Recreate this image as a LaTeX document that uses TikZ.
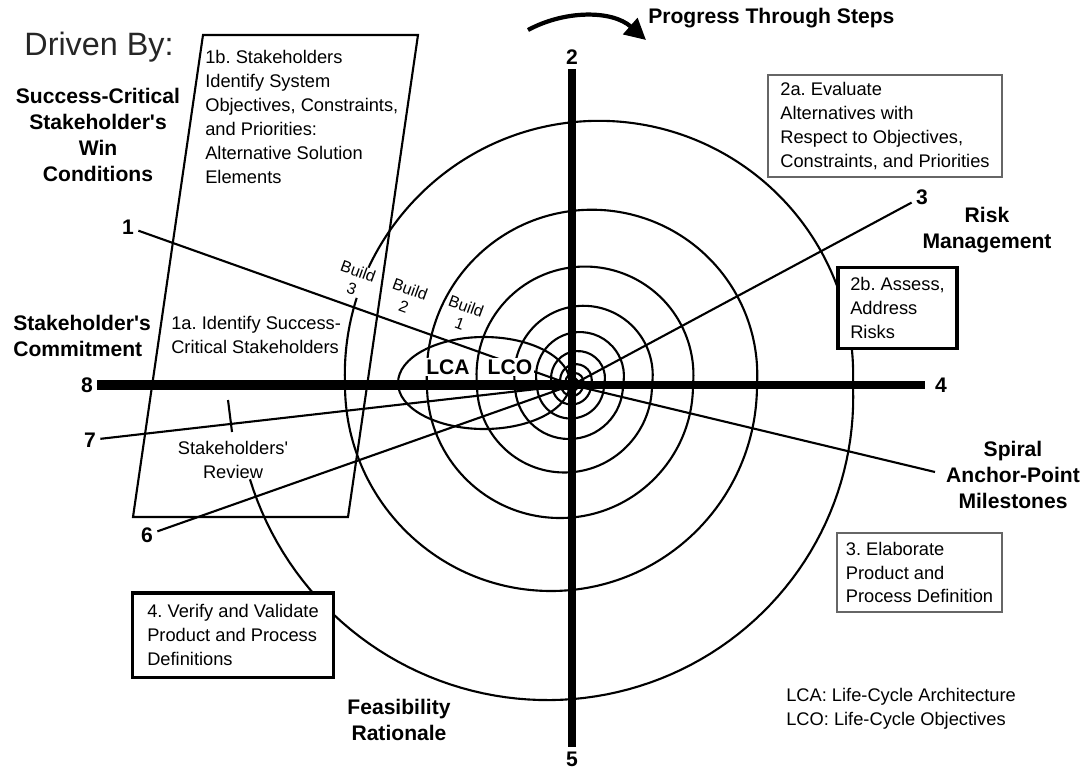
\documentclass[tikz,border=0pt]{standalone}
\usepackage{fontspec}
\setmainfont{Liberation Sans}[Ligatures=TeXOff]
\usetikzlibrary{arrows.meta}
\frenchspacing

\newcommand{\stepfont}{\fontsize{13}{17}\selectfont}
\newcommand{\headfont}{\fontsize{15}{18.5}\selectfont\bfseries}
\newcommand{\buildfont}{\fontsize{11.5}{13.5}\selectfont}

\begin{document}
\begin{tikzpicture}[x=0.025cm, y=-0.025cm,
	spiral/.style={line width=1.5pt},
	ray/.style={line width=1.5pt},
	stepbox/.style={draw, fill=white, align=left, font=\stepfont, inner sep=3pt},
	keybox/.style={stepbox, line width=2.2pt},
	softbox/.style={stepbox, draw=black!60, line width=1.4pt},
	driver/.style={font=\headfont, align=center, inner sep=0pt},
	numlabel/.style={font=\headfont, inner sep=3pt},
	buildlabel/.style={font=\buildfont, align=center, rotate=-20, inner sep=0pt},
	milestone/.style={font=\headfont, fill=white, inner sep=1pt},
	>={Triangle[length=15pt, width=15pt]}]

	\useasboundingbox (0,0) rectangle (1088,771);
	\coordinate (O) at (572,385);

	% spiral, upper halves sit a little above the axis
	\foreach \L/\R/\d in {345/853/10, 427/757/10, 477/693/10, 515/652/10, 537/623/9, 552/604/7, 561/591/5, 566/583/3, 569/578/2} {
		\pgfmathsetmacro{\hw}{(\R-\L)/2}
		\pgfmathsetmacro{\rr}{\hw*sqrt(1+(\d/\hw)^2)}
		\pgfmathsetmacro{\al}{asin(\d/\rr)}
		\draw[spiral] (\L,385) arc[start angle=180-\al, end angle=360+\al, radius=\rr];
	}
	% lower halves
	\foreach \R/\L in {757/345, 693/427, 652/477, 623/515, 604/537, 591/552, 583/561, 578/566, 574/569}
		\draw[spiral] (\R,385) arc[start angle=0, end angle=180, radius={(\R-\L)/2}];
	% outer turn, opening out towards the review
	\draw[spiral] plot[domain=0:163, samples=80]
		({555+(298+21*sin(\x*90/163))*cos(\x)}, {386+(298+21*sin(\x*90/163))*sin(\x)});

	\draw[spiral] (484,383) ellipse[x radius=86, y radius=46];
	\draw[spiral] (203,35) -- (418,35) -- (348,517) -- (133,517) -- cycle;

	% rays and axes
	\node[numlabel] (n1) at (128,227) {1};
	\node[numlabel] (n2) at (572,57) {2};
	\node[numlabel] (n3) at (922,197) {3};
	\node[numlabel] (n4) at (941,385) {4};
	\node[numlabel] (n5) at (572,759) {5};
	\node[numlabel] (n6) at (147,535) {6};
	\node[numlabel] (n7) at (90,440) {7};
	\node[numlabel] (n8) at (87,385) {8};
	\coordinate (ms) at (935,472);
	\foreach \n in {n1,n3,n6,n7} \draw[ray] (\n) -- (O);
	\draw[ray] (O) -- (ms);
	\draw[line width=7pt] (n8) -- (O);
	\draw[line width=5pt, shorten >=4pt] (O) -- (n4);
	\draw[line width=5.5pt] (n2) -- (n5);

	\coordinate (tk1) at (228,400);
	\coordinate (tk2) at (232,432);
	\draw[ray] (tk1) -- (tk2);

	\node[milestone] (lca) at (448,367) {LCA};
	\node[milestone] (lco) at (510,367) {LCO};
	\node[buildlabel, fill=white, inner sep=0.5pt] (b3) at (355,280) {Build\\3};
	\node[buildlabel] (b2) at (407,298) {Build\\2};
	\node[buildlabel] (b1) at (463,315) {Build\\1};

	% steps
	\node[softbox, minimum width=166pt, minimum height=72.5pt] (s2a) at (885,126) {2a. Evaluate\\Alternatives with\\Respect to Objectives,\\Constraints, and Priorities};
	\node[keybox, minimum width=84.6pt, minimum height=57pt] (s2b) at (897.5,308) {2b. Assess,\\Address\\Risks};
	\node[softbox, minimum width=117.4pt, minimum height=56.2pt] (s3) at (919.5,572.5) {3. Elaborate\\Product and\\Process Definition};
	\node[keybox, minimum width=142.3pt, minimum height=59.8pt] (s4) at (233,635) {4. Verify and Validate\\Product and Process\\Definitions};
	\node[font=\stepfont, align=left, anchor=west, inner sep=0pt] (s1b) at (205,117) {1b. Stakeholders\\Identify System\\Objectives, Constraints,\\and Priorities:\\Alternative Solution\\Elements};
	\node[font=\stepfont, align=left, anchor=west, inner sep=0pt] (s1a) at (171,335) {1a. Identify Success-\\Critical Stakeholders};
	\node[font=\stepfont, align=center, inner sep=0pt] (review) at (233,460) {Stakeholders'\\Review};

	% side labels
	\node[font=\fontsize{23}{27}\selectfont, text=black!85, inner sep=0pt] (driven) at (99,47) {Driven By:};
	\node[driver] (win) at (98,135) {Success-Critical\\Stakeholder's\\Win\\Conditions};
	\node[driver, align=left, anchor=west] (commit) at (13,336) {Stakeholder's\\Commitment};
	\node[driver] (risk) at (987,230) {Risk\\Management};
	\node[driver] (spms) at (1013,475) {Spiral\\Anchor-Point\\Milestones};
	\node[driver] (feas) at (399,720) {Feasibility\\Rationale};
	\node[font=\stepfont, align=left, anchor=west, inner sep=0pt] (legend) at (786,709) {LCA: Life-Cycle Architecture\\LCO: Life-Cycle Objectives};

	\coordinate (pa) at (528,30);
	\coordinate (pb) at (646,40);
	\draw[line width=3pt, ->] (pa) .. controls (565,10) and (612,10) .. (pb);
	\node[driver, anchor=west] (prog) at (648,18) {Progress Through Steps};
\end{tikzpicture}
\end{document}
